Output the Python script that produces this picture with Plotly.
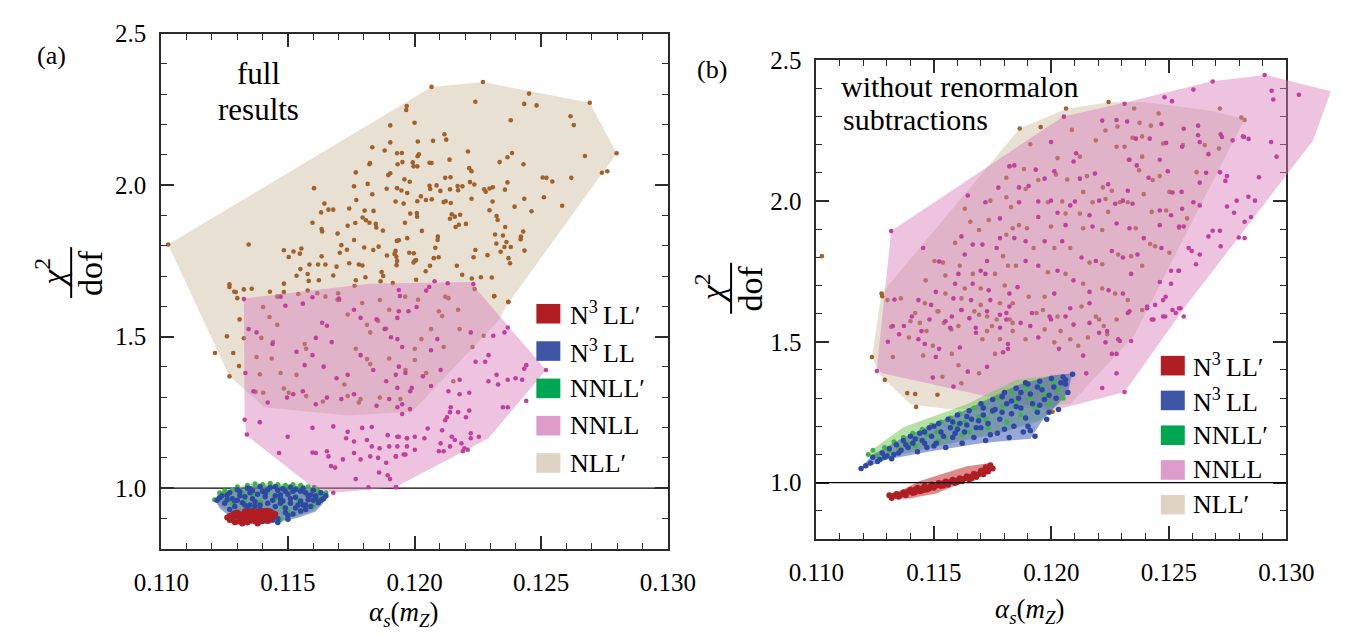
import plotly.graph_objects as go

# ---------------- DATA ----------------
# Panel (a): full results
A_NLLP_HULL = [(0.11027,1.804),(0.12067,2.324),(0.12270,2.340),(0.12692,2.272),(0.12798,2.105),
               (0.12370,1.610),(0.12330,1.552),(0.11990,1.252),(0.11736,1.240),(0.11408,1.267),(0.11269,1.369)]
A_NLLP_PTS = [
(0.12067,2.324),(0.12270,2.340),(0.12452,2.302),(0.12692,2.272),(0.12798,2.105),(0.12240,2.275),(0.12433,2.268),(0.12482,2.263),
(0.11969,2.261),(0.11967,2.248),(0.12616,2.227),(0.12629,2.198),(0.11904,2.197),(0.12000,2.206),(0.12380,2.214),(0.12118,2.168),
(0.12125,2.150),(0.12013,2.144),(0.12073,2.146),(0.11904,2.141),(0.11833,2.125),(0.11882,2.114),(0.11931,2.105),(0.11950,2.106),
(0.12017,2.102),(0.12012,2.095),(0.12211,2.111),(0.12385,2.106),(0.12367,2.092),(0.12673,2.096),(0.12336,2.076),(0.12430,2.069),
(0.11824,2.073),(0.11822,2.069),(0.11933,2.069),(0.11952,2.076),(0.11993,2.075),(0.11996,2.062),(0.12011,2.062),(0.12059,2.074),
(0.12067,2.073),(0.12138,2.084),(0.12216,2.056),(0.12225,2.046),(0.11768,2.042),(0.11896,2.033),(0.11904,2.039),(0.12740,2.041),
(0.12761,2.046),(0.12619,2.024),(0.12506,2.025),(0.12521,2.024),(0.12544,2.012),(0.11960,2.019),(0.11981,2.011),(0.12121,2.024),
(0.12142,2.026),(0.12219,2.010),(0.12236,2.002),(0.12367,2.009),(0.11761,1.996),(0.11815,2.004),(0.11890,1.988),(0.11931,1.990),
(0.11948,1.982),(0.11971,1.974),(0.12059,1.998),(0.12062,1.987),(0.12087,1.999),(0.12102,1.981),(0.12140,1.986),(0.12170,1.997),
(0.12172,1.983),(0.12189,1.996),(0.12275,1.986),(0.12281,1.978),(0.12296,1.989),(0.12309,1.993),(0.12357,1.985),(0.11833,1.970),
(0.11742,1.923),(0.11770,1.951),(0.11925,1.946),(0.11957,1.939),(0.12011,1.947),(0.12025,1.963),(0.12045,1.951),(0.12068,1.953),
(0.12115,1.944),(0.12123,1.947),(0.12143,1.941),(0.12225,1.955),(0.12308,1.946),(0.12433,1.955),(0.12511,1.960),(0.12583,1.932),
(0.12395,1.929),(0.12462,1.914),(0.12296,1.917),(0.11803,1.916),(0.11838,1.915),(0.11983,1.906),(0.12009,1.908),(0.12010,1.896),
(0.12147,1.904),(0.12159,1.896),(0.12180,1.902),(0.12140,1.889),(0.12324,1.898),(0.12328,1.885),(0.11736,1.866),(0.11766,1.875),
(0.11795,1.893),(0.11808,1.884),(0.11822,1.876),(0.11847,1.872),(0.11849,1.860),(0.11875,1.850),(0.11962,1.876),(0.12029,1.849),
(0.12175,1.869),(0.12162,1.862),(0.12203,1.872),(0.12358,1.862),(0.12429,1.847),(0.12420,1.830),(0.12419,1.821),(0.12318,1.837),
(0.12349,1.834),(0.12363,1.812),(0.12380,1.796),(0.12355,1.796),(0.12323,1.807),(0.12340,1.780),(0.12371,1.759),(0.12377,1.742),
(0.12434,1.784),(0.12288,1.769),(0.12240,1.786),(0.12233,1.762),(0.12092,1.830),(0.12091,1.819),(0.12082,1.793),(0.12095,1.762),
(0.12076,1.759),(0.12061,1.734),(0.11971,1.825),(0.11938,1.818),(0.11930,1.816),(0.11925,1.783),(0.11921,1.773),(0.11928,1.764),
(0.11931,1.750),(0.11929,1.736),(0.11979,1.777),(0.11997,1.775),(0.12001,1.750),(0.11996,1.745),(0.12006,1.753),(0.11891,1.768),
(0.11858,1.797),(0.11837,1.786),(0.11801,1.794),(0.11761,1.819),(0.11733,1.787),(0.11742,1.742),(0.11780,1.738),(0.11794,1.735),
(0.11806,1.696),(0.11870,1.713),(0.11876,1.700),(0.11866,1.683),(0.11914,1.677),(0.12044,1.716),(0.12006,1.688),(0.12167,1.734),
(0.12188,1.704),(0.12226,1.692),(0.12262,1.696),(0.12305,1.695),(0.12314,1.633),(0.12370,1.615),(0.11768,1.686),(0.11763,1.667),
(0.12237,1.657),(0.12315,1.634),(0.12371,1.614),
(0.11027,1.804),(0.11603,1.990),(0.11644,1.939),(0.11631,1.910),(0.11660,1.919),(0.11679,1.919),(0.11597,1.876),(0.11633,1.855),
(0.11635,1.847),(0.11696,1.840),(0.11711,1.802),(0.11345,1.804),(0.11484,1.785),(0.11522,1.781),(0.11553,1.791),(0.11547,1.774),
(0.11503,1.763),(0.11633,1.765),(0.11705,1.777),(0.11585,1.738),(0.11619,1.738),(0.11648,1.738),(0.11692,1.731),(0.11549,1.723),
(0.11534,1.701),(0.11578,1.707),(0.11582,1.684),(0.11679,1.702),(0.11484,1.675),(0.11622,1.686),(0.11269,1.673),(0.11269,1.664),
(0.11294,1.647),(0.11326,1.656),(0.11357,1.658),(0.11429,1.648),(0.11458,1.632),(0.11484,1.647),(0.11541,1.641),(0.11578,1.652),
(0.11616,1.643),(0.11648,1.632),(0.11698,1.643),(0.11696,1.622),
(0.11288,1.648),(0.11300,1.627),(0.11259,1.501),(0.11309,1.557),(0.11212,1.446),(0.11284,1.446),(0.11307,1.403),(0.11269,1.369),
(0.11326,1.495),
(0.11402,1.598),(0.11427,1.565),(0.11458,1.539),(0.11395,1.496),(0.11441,1.482),(0.11376,1.433),(0.11436,1.428),(0.11471,1.380),
(0.11389,1.376),(0.11372,1.318),(0.11402,1.315),(0.11484,1.329),(0.11503,1.315),(0.11534,1.374),(0.11566,1.476),(0.11572,1.460),
(0.11702,1.621),(0.11736,1.573),(0.11793,1.611),(0.11812,1.539),(0.11825,1.514),(0.11863,1.621),(0.11900,1.589),(0.11856,1.552),
(0.11888,1.527),(0.11768,1.460),(0.11812,1.426),(0.11825,1.410),(0.11900,1.428),(0.11723,1.342),(0.11787,1.294),(0.11780,1.283),
(0.11736,1.304),(0.11638,1.286),(0.11572,1.304),(0.11863,1.299),(0.11944,1.294),(0.11963,1.632),
(0.12014,1.622),(0.12121,1.632),(0.12134,1.627),(0.12096,1.584),(0.12109,1.568),(0.12172,1.589),(0.12065,1.525),(0.12178,1.525),
(0.12273,1.503),(0.12027,1.492),(0.12115,1.466),(0.12229,1.466),(0.12001,1.423),(0.12046,1.380),(0.12153,1.353),(0.11964,1.390),
(0.12001,1.460)]

A_NNLL_HULL = [(0.11326,1.626),(0.11820,1.675),(0.12220,1.680),(0.12519,1.390),(0.12292,1.165),
               (0.11924,1.003),(0.11679,0.985),(0.11603,1.000),(0.11337,1.174),(0.11329,1.226)]
A_NNLL_PTS = [
(0.11326,1.624),(0.11471,1.632),(0.11490,1.602),(0.11559,1.609),(0.11597,1.630),(0.11635,1.546),(0.11654,1.536),(0.11610,1.496),
(0.11673,1.482),(0.11701,1.626),(0.11761,1.589),(0.11787,1.562),(0.11850,1.557),(0.11882,1.525),(0.11907,1.498),(0.11938,1.584),
(0.11345,1.525),(0.11376,1.514),(0.11439,1.476),(0.11534,1.450),(0.11566,1.406),(0.11597,1.439),(0.11641,1.401),(0.11692,1.363),
(0.11736,1.374),(0.11787,1.439),(0.11837,1.390),(0.11888,1.353),(0.11926,1.374),(0.11964,1.380),(0.11983,1.320),(0.11332,1.380),
(0.11364,1.320),(0.11420,1.283),(0.11496,1.299),(0.11521,1.310),(0.11559,1.320),(0.11610,1.277),(0.11654,1.299),(0.11711,1.294),
(0.11761,1.310),(0.11850,1.272),(0.11900,1.294),(0.11932,1.267),(0.11951,1.245),(0.11329,1.226),(0.11389,1.218),(0.11338,1.177),
(0.11499,1.170),(0.11597,1.199),(0.11679,1.204),(0.11736,1.186),(0.11793,1.199),(0.11831,1.202),(0.11894,1.175),(0.11932,1.170),
(0.11970,1.165),(0.11730,1.165),(0.11761,1.154),(0.11812,1.159),(0.11831,1.138),(0.11862,1.132),(0.11900,1.138),(0.11926,1.105),
(0.11957,1.111),(0.11465,1.116),(0.11597,1.118),(0.11610,1.116),(0.11654,1.122),(0.11660,1.105),(0.11670,1.073),(0.11717,1.095),
(0.11761,1.116),(0.11787,1.095),(0.11825,1.105),(0.11856,1.100),(0.11888,1.084),(0.11686,1.068),(0.11768,1.030),(0.11860,1.052),
(0.11894,1.043),(0.11903,1.030),(0.11928,1.003),(0.11603,1.003),(0.11679,0.985),(0.11818,1.003),
(0.11938,1.654),(0.12046,1.652),(0.11976,1.584),(0.12008,1.598),(0.11932,1.562),(0.12222,1.514),(0.12311,1.503),(0.12355,1.514),
(0.12368,1.530),(0.11932,1.492),(0.12090,1.492),(0.12065,1.455),(0.11951,1.466),(0.12292,1.439),(0.12241,1.417),(0.12279,1.417),
(0.12441,1.406),(0.12433,1.394),(0.12519,1.390),(0.11938,1.401),(0.12033,1.369),(0.12103,1.390),(0.12178,1.358),(0.12292,1.353),
(0.12324,1.374),(0.12330,1.342),(0.12368,1.358),(0.12399,1.363),(0.12425,1.358),(0.11932,1.331),(0.11989,1.331),(0.12065,1.337),
(0.12134,1.320),(0.12178,1.310),(0.12216,1.315),(0.12441,1.288),(0.12349,1.267),(0.12368,1.267),(0.11951,1.277),(0.11982,1.261),
(0.12143,1.267),(0.12140,1.251),(0.12172,1.251),(0.12216,1.256),(0.12203,1.234),(0.12128,1.234),(0.12121,1.224),(0.12052,1.197),
(0.12109,1.191),(0.12147,1.170),(0.12159,1.159),(0.12222,1.181),(0.12222,1.165),(0.12254,1.170),(0.11938,1.170),(0.11970,1.165),
(0.12001,1.170),(0.12039,1.165),(0.11932,1.138),(0.11970,1.138),(0.12001,1.127),(0.12103,1.148),(0.12115,1.122),(0.12140,1.138),
(0.12185,1.148),(0.12197,1.132),(0.12210,1.127),(0.12191,1.122),(0.12096,1.122),(0.11926,1.105),(0.11964,1.111),(0.11926,1.003),
(0.12079,1.683),(0.12131,1.676),(0.12232,1.674),(0.11942,1.634),(0.12058,1.664)]

A_NNLLP_HULL = [(0.11208,0.962),(0.11230,0.990),(0.11370,1.017),(0.11480,1.016),(0.11560,1.013),(0.11650,0.990),
                (0.11660,0.972),(0.11600,0.925),(0.11470,0.893),(0.11320,0.900),(0.11240,0.935)]
A_NNLLP_PTS = [
(0.1121,0.962),(0.1123,0.985),(0.1126,0.970),(0.1128,0.993),(0.1130,1.005),(0.1132,0.985),(0.1134,1.010),(0.1136,0.975),
(0.1137,1.015),(0.1139,0.955),(0.1140,1.012),(0.1142,0.985),(0.1143,1.016),(0.1145,0.965),(0.1146,1.012),(0.1148,0.940),
(0.1149,1.010),(0.1151,0.990),(0.1152,1.012),(0.1154,0.960),(0.1155,1.010),(0.1157,0.985),(0.1158,1.005),(0.1160,0.945),
(0.1161,0.998),(0.1163,0.975),(0.1165,0.985),(0.1135,0.930),(0.1142,0.905),(0.1150,0.925),(0.1128,0.950),(0.1147,0.895),
(0.1156,0.930),(0.1133,0.960),(0.1125,0.992),(0.1153,1.000),(0.1162,0.990)]

A_N3LL_HULL = [(0.11212,0.960),(0.11231,0.987),(0.11370,1.010),(0.11458,1.009),(0.11540,1.007),(0.11648,0.987),
               (0.11660,0.971),(0.11610,0.923),(0.11534,0.901),(0.11420,0.882),(0.11282,0.899),(0.11231,0.933)]
A_N3LL_PTS = [
(0.1122,0.960),(0.1124,0.975),(0.1125,0.950),(0.1127,0.985),(0.1128,0.965),(0.1129,0.940),(0.1130,0.995),(0.1131,0.975),
(0.1132,0.952),(0.1133,0.920),(0.1134,1.000),(0.1135,0.985),(0.1136,0.965),(0.1137,0.940),(0.1138,0.905),(0.1139,1.005),
(0.1140,0.990),(0.1141,0.972),(0.1142,0.950),(0.1143,0.925),(0.1144,0.895),(0.1145,1.005),(0.1146,0.993),(0.1147,0.978),
(0.1148,0.958),(0.1149,0.935),(0.1150,0.910),(0.1151,1.003),(0.1152,0.990),(0.1153,0.970),(0.1154,0.945),(0.1155,0.925),
(0.1156,1.000),(0.1157,0.985),(0.1158,0.962),(0.1159,0.940),(0.1160,0.993),(0.1161,0.975),(0.1162,0.952),(0.1163,0.985),
(0.1164,0.965),(0.1165,0.975),(0.1146,0.887),(0.1140,0.890),(0.1132,0.902),(0.1127,0.930),(0.1152,0.915),(0.1157,0.930),
(0.1144,0.960),(0.1138,0.980),(0.1150,0.980),(0.1135,0.945),(0.1155,0.958),(0.1148,0.998),(0.1142,0.995),(0.1130,0.960),
(0.1160,0.960),(0.1145,0.940),(0.1153,0.996),(0.1136,0.992),(0.1126,0.962),(0.1133,0.972),(0.1147,0.965),(0.1158,0.975),
(0.1143,0.910),(0.1139,0.930),(0.1151,0.950),(0.1156,0.945),(0.1134,0.935),(0.1149,0.990),
(0.1123,0.968),(0.1126,0.978),(0.1129,0.958),(0.1131,0.988),(0.1133,0.945),(0.1135,0.998),(0.1137,0.955),(0.1139,0.945),
(0.1141,0.985),(0.1143,1.002),(0.1145,0.975),(0.1147,0.950),(0.1149,0.920),(0.1151,0.965),(0.1153,0.935),(0.1155,0.990),
(0.1157,0.945),(0.1159,0.978),(0.1161,0.965),(0.1163,0.960),(0.1141,0.905),(0.1146,0.900),(0.1136,0.920),(0.1150,0.898)]

A_N3LLP_HULL = [(0.11258,0.903),(0.11280,0.918),(0.11350,0.927),(0.11420,0.929),(0.11447,0.918),
                (0.11440,0.900),(0.11380,0.884),(0.11300,0.879),(0.11270,0.888)]
A_N3LLP_PTS = [
(0.1126,0.903),(0.1127,0.895),(0.1128,0.912),(0.1129,0.888),(0.1130,0.920),(0.1131,0.900),(0.1132,0.884),(0.1133,0.924),
(0.1134,0.910),(0.1135,0.893),(0.1136,0.926),(0.1137,0.915),(0.1138,0.884),(0.1139,0.900),(0.1140,0.925),(0.1141,0.912),
(0.1142,0.892),(0.1143,0.920),(0.1144,0.905),(0.1145,0.915),(0.1133,0.898),(0.1136,0.905),(0.1130,0.908),(0.1139,0.890),
(0.1142,0.926),(0.1128,0.898),(0.1134,0.887),(0.1141,0.900),(0.1131,0.915),(0.1137,0.898),(0.1129,0.905),(0.1135,0.918),
(0.1138,0.922),(0.1143,0.897),(0.1132,0.893),(0.1140,0.908),
(0.1127,0.908),(0.1129,0.917),(0.1131,0.890),(0.1133,0.916),(0.1135,0.905),(0.1137,0.890),(0.1139,0.918),(0.1141,0.925),
(0.1143,0.910),(0.1144,0.918),(0.1132,0.908),(0.1136,0.912),(0.1140,0.896),(0.1138,0.908),(0.1134,0.920)]

# Panel (b): without renormalon subtractions
B_NLLP_HULL = [(0.11236,1.446),(0.11277,1.671),(0.11865,2.257),(0.12061,2.326),(0.12245,2.350),(0.12400,2.350),
               (0.12679,2.320),(0.12822,2.291),(0.12350,1.520),(0.12080,1.278),(0.11750,1.255),(0.11549,1.262),
               (0.11400,1.278),(0.11270,1.382)]
B_NLLP_PTS = [
(0.11023,1.804),(0.11277,1.671),(0.11280,1.662),(0.11236,1.446),(0.11291,1.365),(0.11386,1.318),(0.11420,1.315),(0.11515,1.312),
(0.11424,1.269),(0.12005,1.252),(0.11865,2.257),(0.11954,2.262),(0.12062,2.328),(0.12243,2.351),(0.12717,2.328),(0.12808,2.296),
(0.12822,2.287),
(0.12087,2.252),(0.11910,2.201),(0.11822,2.123),(0.11883,2.113),(0.12026,2.152),(0.12121,2.157),(0.12189,2.215),(0.12230,2.250),
(0.12281,2.264),(0.12375,2.277),(0.12423,2.267),(0.12456,2.310),(0.12352,2.328),(0.12277,2.192),(0.12386,2.229),(0.12345,2.224),
(0.12329,2.146),(0.12373,2.109),(0.12461,2.088),(0.12431,2.074),(0.12502,2.032),(0.12393,2.024),(0.12219,2.048),(0.12257,2.036),
(0.12151,2.088),(0.12067,2.076),(0.12019,2.094),(0.11944,2.074),(0.11890,2.042),(0.12135,2.032),(0.12046,1.998),(0.12175,1.995),
(0.12230,2.007),(0.12291,1.995),(0.12325,1.995),(0.12427,1.961),(0.12488,1.966),(0.12577,1.938),(0.11828,1.978),(0.11985,1.995),
(0.12060,1.955),(0.12121,1.955),(0.12241,1.961),(0.11862,1.914),(0.11896,1.903),(0.11998,1.909),(0.12135,1.903),(0.12216,1.897),
(0.12359,1.903),(0.12420,1.847),(0.12543,1.905),(0.12441,1.839),(0.12502,1.816),(0.11924,1.833),(0.12012,1.833),(0.12080,1.833),
(0.12162,1.781),(0.12216,1.775),(0.12284,1.810),(0.12339,1.804),(0.12386,1.770),(0.11849,1.770),(0.11985,1.747),(0.12060,1.741),
(0.12135,1.706),(0.12216,1.689),(0.12271,1.671),(0.12325,1.648),(0.11971,1.660),(0.11903,1.660),(0.11835,1.637),(0.11964,1.613),
(0.12026,1.590),(0.12128,1.625),(0.12203,1.579),(0.12277,1.579),(0.12386,1.613),(0.11822,1.579),(0.12652,2.198),(0.12713,2.186),
(0.12559,2.198),(0.12618,2.102),(0.12475,2.204),(0.12386,2.157),(0.12311,2.192),
(0.11302,1.648),(0.11359,1.654),(0.11465,1.718),(0.11461,1.637),(0.11420,1.602),(0.11502,1.787),(0.11538,1.781),(0.11519,1.608),
(0.11542,1.567),(0.11590,1.851),(0.11610,1.770),(0.11631,1.972),(0.11655,1.926),(0.11692,1.897),(0.11733,1.932),(0.11740,2.001),
(0.11808,2.082),(0.11808,2.013),(0.11835,1.903),(0.11808,1.880),(0.11794,1.804),(0.11815,1.770),(0.11665,1.741),(0.11760,1.741),
(0.11549,1.735),(0.11631,1.689),(0.11699,1.689),(0.11801,1.700),(0.11549,1.671),(0.11617,1.654),(0.11699,1.631),(0.11781,1.637),
(0.11617,1.613),(0.11692,1.596),(0.11767,1.579),(0.11604,1.556),(0.11726,1.538),(0.11835,1.567),(0.11400,1.573),
(0.11325,1.446),(0.11318,1.553),(0.11393,1.515),(0.11468,1.538),(0.11440,1.567),(0.11515,1.608),(0.11574,1.544),(0.11495,1.486),
(0.11454,1.451),(0.11576,1.457),(0.11604,1.417),(0.11692,1.388),(0.11760,1.457),(0.11781,1.509),(0.11706,1.509),(0.11747,1.556),
(0.11726,1.590),(0.11672,1.608),(0.11536,1.376),(0.11617,1.353),
(0.11835,1.538),(0.11890,1.509),(0.11937,1.602),(0.11971,1.544),(0.12012,1.498),(0.12039,1.538),(0.12080,1.509),(0.12114,1.486),
(0.12155,1.515),(0.12189,1.590),(0.12223,1.556),(0.12237,1.527)]

B_NNLL_HULL = [(0.11257,1.405),(0.11318,1.893),(0.12050,2.300),(0.12311,2.348),(0.12679,2.424),(0.12910,2.447),
               (0.13189,2.389),(0.13114,2.215),(0.12570,1.625),(0.12311,1.322),(0.12005,1.255),(0.11280,1.388)]
B_NNLL_PTS = [
(0.12907,2.447),(0.12686,2.424),(0.12604,2.395),(0.12481,2.368),(0.12513,2.354),(0.12937,2.391),(0.12944,2.360),(0.13053,2.377),
(0.12815,2.229),(0.12839,2.220),(0.12935,2.209),(0.12958,2.157),(0.12720,2.236),(0.12726,2.227),(0.12771,2.215),(0.12883,2.084),
(0.12788,2.001),(0.12866,2.001),(0.12838,2.015),(0.12777,1.958),(0.12849,1.943),(0.12822,1.926),(0.12797,1.870),(0.12822,1.868),
(0.12747,1.980),(0.12717,1.894),(0.12686,1.894),(0.12720,1.839),(0.12668,1.874),(0.12631,1.810),(0.12615,1.775),(0.12604,1.995),
(0.12631,1.984),(0.12543,1.909),(0.12584,1.833),(0.12597,1.822),(0.12540,1.752),(0.12509,1.706),(0.12461,1.712),(0.12475,1.648),
(0.12486,1.660),(0.12441,1.631),(0.12543,1.619),(0.12529,1.602),(0.12563,1.590),(0.12484,1.590),(0.12427,1.579),(0.12407,1.625),
(0.12717,2.102),(0.12747,2.088),(0.12740,2.071),(0.12819,2.227),(0.12434,1.579),(0.12475,1.590),(0.12515,1.613),(0.12549,1.619),
(0.12148,1.388),(0.12216,1.336),(0.12277,1.388),(0.12311,1.322),(0.12339,1.503),(0.12332,1.608),(0.12284,1.509),(0.12257,1.457),
(0.12277,1.457),
(0.12053,2.299),(0.11998,2.209),(0.11842,2.126),(0.11933,2.111),(0.12105,2.169),(0.12094,2.140),(0.12216,2.285),(0.12277,2.287),
(0.12322,2.282),(0.12468,2.273),(0.12311,2.345),(0.12359,2.221),(0.12418,2.221),(0.12488,2.206),(0.12363,2.126),(0.12413,2.082),
(0.12495,2.105),(0.12515,2.030),(0.12554,2.032),(0.12325,2.036),(0.12241,2.059),(0.12185,2.097),(0.12121,2.079),(0.12012,2.105),
(0.11971,2.079),(0.11862,2.048),(0.11903,2.053),(0.11998,2.001),(0.12100,1.998),(0.12203,2.001),(0.12271,1.990),(0.12304,2.001),
(0.12345,1.990),(0.12461,1.966),(0.12509,1.949),(0.11862,1.995),(0.11944,1.998),(0.12026,1.958),(0.12080,1.984),(0.12162,1.949),
(0.12277,1.920),(0.11842,1.868),(0.11944,1.943),(0.12060,1.914),(0.12175,1.909),(0.12332,1.903),(0.12393,1.868),(0.12461,1.914),
(0.12563,1.909),(0.12468,1.833),(0.12509,1.752),(0.12543,1.752),(0.11890,1.857),(0.11971,1.857),(0.12046,1.857),(0.12128,1.799),
(0.12189,1.787),(0.12257,1.822),(0.12304,1.799),(0.12366,1.810),(0.11890,1.787),(0.11944,1.770),(0.12026,1.752),(0.12094,1.718),
(0.12162,1.677),(0.12243,1.683),(0.12304,1.671),(0.12339,1.741),(0.12012,1.671),(0.11856,1.694),(0.11917,1.602),(0.11998,1.579),
(0.12080,1.619),(0.12162,1.637),(0.12237,1.538),(0.12325,1.602),(0.11869,1.567),(0.12624,2.233),(0.12631,2.209),(0.12668,2.166),
(0.12563,2.256),(0.12624,2.267),(0.12631,2.065),(0.12658,2.100),(0.12556,2.192),(0.12461,2.146),(0.12332,2.146),(0.12556,1.972),
(0.11318,1.893),(0.11332,1.650),(0.11325,1.556),(0.11454,1.833),(0.11434,1.648),(0.11488,1.631),(0.11481,1.579),(0.11522,1.785),
(0.11508,1.677),(0.11576,1.590),(0.11569,1.550),(0.11617,1.874),(0.11631,1.810),(0.11644,2.019),(0.11665,1.845),(0.11706,1.845),
(0.11719,1.995),(0.11774,2.047),(0.11821,2.123),(0.11781,1.938),(0.11781,1.868),(0.11767,1.833),(0.11726,1.787),(0.11699,1.752),
(0.11719,1.741),(0.11604,1.741),(0.11590,1.706),(0.11665,1.706),(0.11733,1.683),(0.11821,1.671),(0.11583,1.654),(0.11658,1.648),
(0.11740,1.648),(0.11821,1.625),(0.11651,1.584),(0.11726,1.608),(0.11808,1.602),(0.11678,1.550),(0.11781,1.550),(0.11372,1.556),
(0.11447,1.538),
(0.11257,1.396),(0.11304,1.500),(0.11352,1.527),(0.11434,1.509),(0.11406,1.590),(0.11549,1.573),(0.11461,1.492),(0.11522,1.475),
(0.11508,1.446),(0.11610,1.480),(0.11644,1.394),(0.11726,1.411),(0.11794,1.463),(0.11815,1.475),(0.11679,1.532),(0.11781,1.596),
(0.11617,1.613),(0.11495,1.373),(0.11583,1.341),
(0.11808,1.579),(0.11815,1.492),(0.11910,1.556),(0.11944,1.515),(0.11992,1.590),(0.12032,1.475),(0.12060,1.590),(0.12094,1.561),
(0.12135,1.451),(0.12162,1.567),(0.12203,1.532),(0.12230,1.498),(0.12291,1.503),(0.12407,1.619)]

B_NNLLP_HULL = [(0.11210,1.098),(0.11250,1.125),(0.11370,1.197),(0.11640,1.278),(0.11850,1.365),(0.12050,1.385),
                (0.12060,1.300),(0.11950,1.220),(0.11800,1.180),(0.11500,1.125),(0.11300,1.090)]
B_NNLLP_PTS = [
(0.1122,1.100),(0.1124,1.115),(0.1126,1.095),(0.1129,1.125),(0.1131,1.110),(0.1133,1.145),(0.1135,1.125),(0.1137,1.160),
(0.1139,1.140),(0.1141,1.175),(0.1143,1.155),(0.1145,1.190),(0.1147,1.170),(0.1149,1.205),(0.1151,1.180),(0.1153,1.215),
(0.1155,1.160),(0.1157,1.230),(0.1159,1.205),(0.1161,1.245),(0.1163,1.215),(0.1165,1.180),(0.1167,1.265),(0.1169,1.235),
(0.1171,1.280),(0.1173,1.195),(0.1175,1.250),(0.1177,1.300),(0.1179,1.270),(0.1181,1.215),(0.1183,1.320),(0.1185,1.290),
(0.1187,1.240),(0.1189,1.335),(0.1191,1.300),(0.1193,1.265),(0.1195,1.345),(0.1197,1.315),(0.1199,1.280),(0.1201,1.355),
(0.1203,1.330),(0.1205,1.300),(0.1142,1.130),(0.1152,1.150),(0.1162,1.170),(0.1172,1.225)]

B_N3LL_HULL = [(0.11182,1.046),(0.11240,1.100),(0.11370,1.160),(0.11600,1.245),(0.11850,1.345),(0.12000,1.380),
               (0.12090,1.388),(0.12070,1.320),(0.11960,1.220),(0.11910,1.156),(0.11700,1.140),(0.11500,1.113),(0.11300,1.082)]
B_N3LL_PTS = [
(0.1119,1.050),(0.1123,1.070),(0.1124,1.090),(0.1127,1.082),(0.1128,1.105),(0.1130,1.095),(0.1131,1.120),(0.1133,1.100),
(0.1134,1.135),(0.1136,1.115),(0.1137,1.150),(0.1139,1.125),(0.1140,1.165),(0.1141,1.140),(0.1143,1.110),(0.1144,1.175),
(0.1145,1.150),(0.1147,1.125),(0.1148,1.195),(0.1149,1.165),(0.1151,1.140),(0.1152,1.210),(0.1153,1.180),(0.1155,1.125),
(0.1156,1.225),(0.1157,1.195),(0.1158,1.160),(0.1160,1.240),(0.1161,1.210),(0.1162,1.140),(0.1163,1.180),(0.1165,1.255),
(0.1166,1.225),(0.1167,1.160),(0.1168,1.195),(0.1170,1.280),(0.1171,1.240),(0.1172,1.150),(0.1173,1.210),(0.1175,1.295),
(0.1176,1.260),(0.1177,1.175),(0.1178,1.225),(0.1180,1.320),(0.1181,1.280),(0.1182,1.160),(0.1183,1.245),(0.1184,1.200),
(0.1185,1.335),(0.1186,1.300),(0.1187,1.265),(0.1188,1.180),(0.1189,1.230),(0.1190,1.350),(0.1191,1.315),(0.1192,1.280),
(0.1193,1.165),(0.1194,1.250),(0.1195,1.360),(0.1196,1.330),(0.1197,1.295),(0.1198,1.225),(0.1200,1.370),(0.1201,1.340),
(0.1202,1.300),(0.1203,1.260),(0.1205,1.375),(0.1206,1.350),(0.1207,1.320),(0.1209,1.385),(0.1150,1.200),(0.1160,1.190),
(0.1170,1.195),(0.1180,1.190),(0.1190,1.200),(0.1175,1.255),(0.1185,1.270),
(0.1121,1.060),(0.1126,1.075),(0.1129,1.090),(0.1132,1.085),(0.1135,1.105),(0.1138,1.135),(0.1142,1.155),(0.1146,1.140),
(0.1150,1.130),(0.1154,1.165),(0.1159,1.175),(0.1164,1.205),(0.1169,1.220),(0.1174,1.170),(0.1179,1.250),(0.1183,1.290),
(0.1187,1.320),(0.1191,1.185),(0.1195,1.275),(0.1199,1.310),(0.1204,1.355),(0.1179,1.305),(0.1189,1.355),(0.1164,1.235),
(0.1158,1.215),(0.1146,1.180),(0.1199,1.250),(0.1206,1.365),(0.1194,1.340),(0.1171,1.265)]

B_N3LLP_HULL = [(0.11300,0.958),(0.11360,0.972),(0.11440,1.006),(0.11640,1.058),(0.11730,1.069),(0.11750,1.062),
                (0.11740,1.046),(0.11700,1.028),(0.11510,0.962),(0.11400,0.945),(0.11340,0.942)]
B_N3LLP_PTS = [
(0.1131,0.955),(0.1132,0.946),(0.1134,0.960),(0.1135,0.950),(0.1137,0.966),(0.1138,0.955),(0.1140,0.975),(0.1141,0.963),
(0.1143,0.982),(0.1144,0.970),(0.1146,0.988),(0.1147,0.976),(0.1149,0.994),(0.1150,0.982),(0.1152,0.999),(0.1153,0.988),
(0.1155,1.004),(0.1156,0.993),(0.1158,1.010),(0.1159,0.999),(0.1161,1.016),(0.1162,1.005),(0.1164,1.023),(0.1165,1.012),
(0.1167,1.032),(0.1168,1.020),(0.1170,1.042),(0.1171,1.030),(0.1172,1.055),(0.1173,1.040),(0.1174,1.062),(0.1175,1.050),
(0.1139,0.968),(0.1145,0.979),(0.1151,0.990),(0.1157,1.002),(0.1163,1.014),(0.1169,1.030),(0.1136,0.958),(0.1148,0.985),
(0.1133,0.953),(0.1137,0.960),(0.1140,0.969),(0.1142,0.976),(0.1145,0.972),(0.1148,0.979),(0.1150,0.988),(0.1152,0.993),
(0.1154,0.998),(0.1156,1.000),(0.1158,1.004),(0.1160,1.008),(0.1162,1.012),(0.1164,1.017),(0.1166,1.022),(0.1168,1.028),
(0.1170,1.036),(0.1172,1.046),(0.1174,1.055),(0.1166,1.015),(0.1160,1.002),(0.1154,0.990),(0.1146,0.975),(0.1142,0.966)]

X_TICKS = [0.110, 0.115, 0.120, 0.125, 0.130]
X_TICKTEXT = ["0.110", "0.115", "0.120", "0.125", "0.130"]
Y_TICKS = [1.0, 1.5, 2.0, 2.5]
Y_TICKTEXT = ["1.0", "1.5", "2.0", "2.5"]
LEGEND_NAMES = ["N<sup>3</sup>\u2009LL′", "N<sup>3</sup>\u2009LL", "NNLL′", "NNLL", "NLL′"]
LEGEND_COLORS = ["#b01e24", "#3f55a6", "#00a651", "#dc9bc8", "#dfd3c3"]

# ---------------- STYLE ----------------
W, H = 1372, 637
FONT = "Liberation Serif"
C_BROWN = "#a0612b"
C_MAG = "#c0409e"
C_GREEN = "#3fb34a"
C_BLUE = "#2e49a3"
C_RED = "#b01e24"
F_TAN = "rgba(215,198,176,0.55)"
F_PINK = "rgba(216,128,190,0.47)"
F_GREEN = "rgba(120,200,90,0.55)"
F_BLUE = "rgba(70,95,180,0.55)"
F_RED = "rgba(200,60,60,0.6)"

def px(x): return x / W
def py(y): return 1 - y / H

fig = go.Figure()

def hull(pts, color, xa, ya):
    fig.add_trace(go.Scatter(x=[p[0] for p in pts], y=[p[1] for p in pts], mode="lines", fill="toself",
                             fillcolor=color, line=dict(width=0, color=color), hoverinfo="skip",
                             showlegend=False, xaxis=xa, yaxis=ya))

def dots(pts, color, xa, ya, size=4.6):
    fig.add_trace(go.Scatter(x=[p[0] for p in pts], y=[p[1] for p in pts], mode="markers",
                             marker=dict(size=size, color=color, line=dict(width=0)), hoverinfo="skip",
                             showlegend=False, xaxis=xa, yaxis=ya, cliponaxis=False))

# panel (a)
hull(A_NLLP_HULL, F_TAN, "x", "y"); dots(A_NLLP_PTS, C_BROWN, "x", "y")
hull(A_NNLL_HULL, F_PINK, "x", "y"); dots(A_NNLL_PTS, C_MAG, "x", "y")
hull(A_NNLLP_HULL, F_GREEN, "x", "y"); hull(A_N3LL_HULL, F_BLUE, "x", "y")
dots(A_NNLLP_PTS, C_GREEN, "x", "y", 5); dots(A_N3LL_PTS, C_BLUE, "x", "y", 5.5)
hull(A_N3LLP_HULL, F_RED, "x", "y"); dots(A_N3LLP_PTS, C_RED, "x", "y", 6)

# panel (b) (drawn on a wider invisible axis so the NNLL region can spill past the frame)
hull(B_NLLP_HULL, F_TAN, "x3", "y3"); dots(B_NLLP_PTS, C_BROWN, "x3", "y3")
hull(B_NNLL_HULL, F_PINK, "x3", "y3"); dots(B_NNLL_PTS, C_MAG, "x3", "y3")
hull(B_NNLLP_HULL, F_GREEN, "x3", "y3"); hull(B_N3LL_HULL, F_BLUE, "x3", "y3")
dots(B_NNLLP_PTS, C_GREEN, "x3", "y3", 5); dots(B_N3LL_PTS, C_BLUE, "x3", "y3", 5.5)
hull(B_N3LLP_HULL, F_RED, "x3", "y3"); dots(B_N3LLP_PTS, C_RED, "x3", "y3", 6)

AX = "#2b2b2b"
def xax(dom):
    return dict(domain=dom, range=[0.110, 0.130], tickvals=X_TICKS, ticktext=X_TICKTEXT, showgrid=False,
                zeroline=False, showline=True, linecolor=AX, linewidth=2, mirror="ticks", ticks="inside",
                ticklen=13, tickwidth=1.6, tickcolor=AX, ticklabelstandoff=10,
                tickfont=dict(family=FONT, size=25, color="black"),
                minor=dict(dtick=0.001, ticklen=6, tickwidth=1.3, tickcolor=AX, ticks="inside", showgrid=False))
def yax(dom):
    return dict(domain=dom, range=[0.8, 2.5], tickvals=Y_TICKS, ticktext=Y_TICKTEXT, showgrid=False,
                zeroline=False, showline=True, linecolor=AX, linewidth=2, mirror="ticks", ticks="inside",
                ticklen=13, tickwidth=1.6, tickcolor=AX, ticklabelstandoff=8,
                tickfont=dict(family=FONT, size=25, color="black"),
                minor=dict(dtick=0.1, ticklen=6, tickwidth=1.3, tickcolor=AX, ticks="inside", showgrid=False))

xa_dom = [px(139), px(667)]; ya_dom = [py(547), py(21)]
xb_dom = [px(822), px(1312)]; yb_dom = [py(537), py(48)]
xb_wide = 0.110 + (W - 822) / 24500.0

annotations = []
shapes = []
def text(t, x, y, size, xanchor="center", yanchor="middle", angle=0):
    annotations.append(dict(text=t, x=px(x), y=py(y), xref="paper", yref="paper", showarrow=False,
                            xanchor=xanchor, yanchor=yanchor, textangle=angle,
                            font=dict(family=FONT, size=size, color="black")))

# panel labels and notes
text("(a)", 25, 43, 26); text("(b)", 713, 58, 26)
text("full", 240, 62, 31); text("results", 240, 98, 31)
text("without renormalon", 845, 75, 30, xanchor="left"); text("subtractions", 848, 109, 30, xanchor="left")
# axis titles
text("<i>α<sub>s</sub></i>(<i>m<sub>Z</sub></i>)", 392, 614, 27)
text("<i>α<sub>s</sub></i>(<i>m<sub>Z</sub></i>)", 1045, 610, 27)
# y titles: rotated fraction chi^2 / dof
for (cx, cy) in [(45, 265), (733, 281)]:
    text("<i>χ</i><sup>2</sup>", cx - 22, cy, 34, angle=-90)
    text("dof", cx + 20, cy, 34, angle=-90)
    shapes.append(dict(type="line", xref="paper", yref="paper", x0=px(cx), x1=px(cx), y0=py(cy - 26), y1=py(cy + 26),
                       line=dict(color="black", width=2)))

# horizontal reference lines at chi2/dof = 1
shapes.append(dict(type="line", xref="x", yref="y", x0=0.110, x1=0.130, y0=1.0, y1=1.0,
                   line=dict(color="black", width=1.3), layer="below"))
shapes.append(dict(type="line", xref="x2", yref="y2", x0=0.110, x1=0.130, y0=1.0, y1=1.0,
                   line=dict(color="black", width=1.3), layer="above"))

# legends
for (lx, ly0, dy, tx) in [(530, 307, 38.1, 563), (1181, 360, 35.5, 1213)]:
    for i, (name, col) in enumerate(zip(LEGEND_NAMES, LEGEND_COLORS)):
        yc = ly0 + i * dy
        shapes.append(dict(type="rect", xref="paper", yref="paper", x0=px(lx), x1=px(lx + 25),
                           y0=py(yc - 10), y1=py(yc + 10), fillcolor=col, line=dict(width=0)))
        text(name, tx, yc, 26, xanchor="left")

fig.update_layout(
    width=W, height=H, margin=dict(l=0, r=0, t=0, b=0), paper_bgcolor="white", plot_bgcolor="rgba(0,0,0,0)",
    showlegend=False,
    xaxis=dict(xax(xa_dom), anchor="y"), yaxis=dict(yax(ya_dom), anchor="x"),
    xaxis2=dict(xax(xb_dom), anchor="y2"), yaxis2=dict(yax(yb_dom), anchor="x2"),
    xaxis3=dict(domain=[px(822), 1.0], range=[0.110, xb_wide], visible=False, anchor="y3", showgrid=False, zeroline=False),
    yaxis3=dict(domain=yb_dom, range=[0.8, 2.5], visible=False, anchor="x3", showgrid=False, zeroline=False),
    annotations=annotations, shapes=shapes,
)
fig.write_html("out.html")
